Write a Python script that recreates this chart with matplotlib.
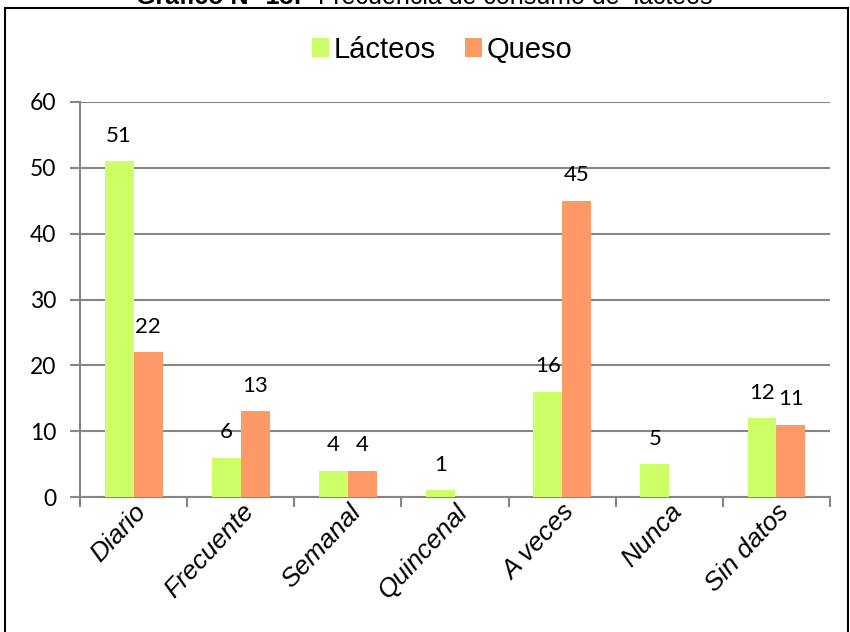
import matplotlib
matplotlib.use("Agg")
import matplotlib.pyplot as plt
import matplotlib.patches as mpatches
import numpy as np

categorias = ["Diario", "Frecuente", "Semanal", "Quincenal", "A veces", "Nunca", "Sin datos"]
lacteos = [51, 6, 4, 1, 16, 5, 12]
queso = [22, 13, 4, 0, 45, 0, 11]
series = ["Lácteos", "Queso"]

verde = "#CCFF66"
naranja = "#FF9966"
gris = "#868686"

fig = plt.figure(figsize=(8.5, 6.32), dpi=100)
ax = fig.add_axes([80 / 850, 1 - 497 / 632, 750 / 850, 395 / 632])

x = np.arange(len(categorias))
w = 0.27
b1 = ax.bar(x - w / 2, lacteos, w, color=verde, label=series[0], zorder=3)
b2 = ax.bar(x + w / 2, queso, w, color=naranja, label=series[1], zorder=3)

# etiquetas de datos (no se muestran los ceros)
for bars, vals in [(b1, lacteos), (b2, queso)]:
    for r, v in zip(bars, vals):
        if v == 0:
            continue
        ax.annotate(str(v), (r.get_x() + r.get_width() / 2, v), xytext=(0, 11),
                    textcoords="offset points", ha="center", va="bottom",
                    fontsize=16, family="Lato")

ax.set_xlim(-0.5, len(categorias) - 0.5)
ax.set_ylim(0, 60)
ax.set_yticks(range(0, 61, 10))
ax.yaxis.grid(True, color=gris, linewidth=1.5, zorder=0)
ax.set_axisbelow(True)

for s in ["top", "right"]:
    ax.spines[s].set_visible(False)
for s in ["left", "bottom"]:
    ax.spines[s].set_color(gris)
    ax.spines[s].set_linewidth(1.5)

ax.tick_params(axis="y", length=7, width=1.5, color=gris, labelsize=16.5, pad=10)
for t in ax.get_yticklabels():
    t.set_family("Lato")

ax.set_xticks(np.arange(-0.5, len(categorias), 1))
ax.set_xticklabels([])
ax.tick_params(axis="x", length=7, width=1.5, color=gris)
ax.set_xticks(x, minor=True)
ax.set_xticklabels(categorias, minor=True, rotation=47, ha="right",
                   rotation_mode="anchor", fontsize=19, style="italic",
                   family="Liberation Sans")
ax.tick_params(axis="x", which="minor", length=0, pad=2)

fig.legend(handles=[b1, b2], labels=series, loc="center", bbox_to_anchor=(442 / 850, 1 - 50 / 632),
           ncol=2, frameon=False, prop={"family": "Liberation Sans", "size": 21},
           handlelength=0.6, handleheight=0.6, handletextpad=0.15, columnspacing=1.0)

# marco del grafico
fig.patches.append(mpatches.Rectangle((5 / 850, -0.01), 843 / 850, 1 - 8 / 632 + 0.01,
                                      transform=fig.transFigure, fill=False,
                                      edgecolor="black", linewidth=1.5))

# titulo (recortado en la parte superior)
fig.text(302 / 850, 1 - 4 / 632, "Gráfico N° 13:", ha="right", va="baseline",
         fontsize=18, fontweight="bold", family="Liberation Sans")
fig.text(318 / 850, 1 - 4 / 632, "Frecuencia de consumo de  lácteos", ha="left",
         va="baseline", fontsize=18, family="Liberation Sans")

fig.savefig("out.png", dpi=100)
